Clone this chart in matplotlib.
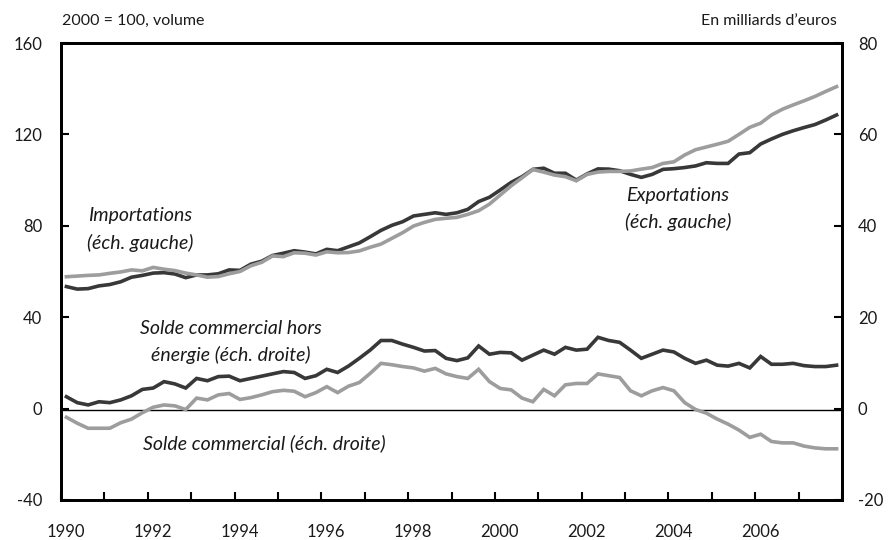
import numpy as np
import matplotlib
matplotlib.use("Agg")
import matplotlib.pyplot as plt
from matplotlib.transforms import ScaledTranslation

# Quarterly data, 1990Q1 - 2007Q4
start_year = 1990
n_quarters = 72

importations = [
    53.4, 52.3, 52.5, 53.7,
    54.3, 55.5, 57.5, 58.3,
    59.3, 59.5, 58.9, 57.3,
    58.5, 58.5, 59.0, 60.7,
    60.5, 63.2, 64.5, 67.0,
    68.0, 69.1, 68.5, 67.7,
    69.7, 69.1, 70.8, 72.5,
    75.2, 78.0, 80.2, 81.8,
    84.3, 85.0, 85.7, 85.0,
    85.7, 87.2, 90.6, 92.5,
    95.7, 99.0, 101.5, 104.7,
    105.2, 103.0, 103.0, 100.0,
    102.7, 104.9, 104.8, 104.1,
    102.5, 101.2, 102.5, 104.7,
    105.0, 105.5, 106.2, 107.6,
    107.3, 107.3, 111.4, 112.0,
    115.8, 118.0, 120.0, 121.6,
    123.0, 124.3, 126.3, 128.5,
]

exportations = [
    57.7, 58.0, 58.3, 58.5,
    59.2, 59.8, 60.7, 60.3,
    61.8, 61.0, 60.4, 59.3,
    58.5, 57.5, 57.8, 59.0,
    60.0, 62.5, 64.0, 66.8,
    66.5, 68.2, 68.0, 67.2,
    68.6, 68.2, 68.3, 69.0,
    70.6, 72.0, 74.5, 77.0,
    79.9, 81.5, 82.8, 83.3,
    83.7, 85.0, 86.6, 89.5,
    93.5, 97.5, 101.0, 104.6,
    103.5, 102.2, 101.5, 99.7,
    102.5, 103.5, 103.8, 103.8,
    104.0, 104.8, 105.5, 107.3,
    108.0, 111.0, 113.3, 114.5,
    115.7, 117.0, 120.0, 123.1,
    124.9, 128.5, 131.0, 132.9,
    134.7, 136.6, 138.8, 140.9,
]

solde_hors_energie = [
    2.6, 1.3, 0.8, 1.5,
    1.3, 1.9, 2.8, 4.2,
    4.5, 5.9, 5.4, 4.5,
    6.6, 6.1, 7.0, 7.1,
    6.1, 6.6, 7.1, 7.6,
    8.1, 7.9, 6.6, 7.2,
    8.6, 7.9, 9.3, 11.0,
    12.8, 14.9, 14.9, 14.1,
    13.4, 12.6, 12.7, 11.0,
    10.5, 11.1, 13.7, 11.9,
    12.3, 12.2, 10.6, 11.7,
    12.8, 11.9, 13.4, 12.8,
    13.0, 15.6, 14.9, 14.5,
    12.8, 11.0, 11.9, 12.8,
    12.4, 11.0, 9.9, 10.6,
    9.5, 9.3, 9.9, 8.9,
    11.4, 9.7, 9.7, 9.9,
    9.4, 9.2, 9.2, 9.5,
]

solde_commercial = [
    -1.9, -3.2, -4.3, -4.3,
    -4.3, -3.1, -2.3, -0.9,
    0.3, 0.8, 0.6, -0.2,
    2.3, 1.9, 3.0, 3.3,
    2.0, 2.4, 3.0, 3.7,
    4.0, 3.8, 2.6, 3.5,
    4.8, 3.5, 4.9, 5.7,
    7.7, 9.9, 9.6, 9.2,
    8.9, 8.2, 8.8, 7.6,
    7.0, 6.6, 8.6, 5.9,
    4.4, 4.1, 2.3, 1.5,
    4.2, 2.8, 5.2, 5.5,
    5.5, 7.6, 7.2, 6.8,
    3.9, 2.8, 3.9, 4.6,
    3.9, 1.3, -0.2, -1.0,
    -2.3, -3.4, -4.7, -6.3,
    -5.6, -7.2, -7.5, -7.5,
    -8.2, -8.6, -8.8, -8.8,
]

left_ticks = [-40, 0, 40, 80, 120, 160]
right_ticks = [-20, 0, 20, 40, 60, 80]
year_labels = list(range(1990, 2007, 2))

dates = start_year + 0.125 + 0.25 * np.arange(n_quarters)

FONT = "Lato"
DARK = "#383838"
LIGHT = "#9d9d9d"
TEXT = "#1a1a1a"

plt.rcParams["font.family"] = [FONT, "DejaVu Sans"]

fig = plt.figure(figsize=(8.89, 5.40), dpi=100)
ax = fig.add_axes([61 / 889, 1 - 500 / 540, (842 - 61) / 889, (500 - 43) / 540])
ax2 = ax.twinx()

lw = 2.6
ax.plot(dates, exportations, color=LIGHT, lw=lw, solid_joinstyle="miter", zorder=3)
ax.plot(dates, importations, color=DARK, lw=lw, solid_joinstyle="miter", zorder=2)
ax2.plot(dates, solde_commercial, color=LIGHT, lw=lw, solid_joinstyle="miter", zorder=3)
ax2.plot(dates, solde_hors_energie, color=DARK, lw=lw, solid_joinstyle="miter", zorder=3)
ax2.axhline(-0.4, color="black", lw=1.0, zorder=2)

ax.set_xlim(1990, 2008)
ax.set_ylim(-40, 160)
ax2.set_ylim(-20, 80)

ax.set_yticks(left_ticks)
ax.set_yticklabels([str(v) for v in left_ticks])
ax2.set_yticks(right_ticks)
ax2.set_yticklabels([str(v) for v in right_ticks])

years = list(range(1990, 2009))
ax.set_xticks(years)
ax.set_xticklabels([str(y) if y in year_labels else "" for y in years])

for a in (ax, ax2):
    for s in a.spines.values():
        s.set_linewidth(2.0)
        s.set_color("black")

ax.tick_params(axis="y", direction="in", length=6, width=1.5, pad=13.5, labelsize=12, labelcolor=TEXT)
ax2.tick_params(axis="y", direction="in", length=6, width=1.5, pad=11.5, labelsize=12, labelcolor=TEXT)
ax.tick_params(axis="x", direction="in", length=6, width=1.5, pad=17, labelsize=12, labelcolor=TEXT)

offset = ScaledTranslation(5 / 100, 0, fig.dpi_scale_trans)
for lab in ax.get_xticklabels():
    lab.set_transform(lab.get_transform() + offset)

# Header texts
fig.text(62 / 889, 1 - 21 / 540, "2000 = 100, volume", ha="left", va="center", fontsize=11.5, color=TEXT)
fig.text(837 / 889, 1 - 21 / 540, "En milliards d\u2019euros", ha="right", va="center", fontsize=11.5, color=TEXT)

# Annotations (pixel positions converted to figure fractions)
def ftext(x, y, s):
    fig.text(x / 889, 1 - y / 540, s, ha="center", va="center", fontsize=14,
             style="italic", fontweight="normal", color=TEXT)

ftext(140, 216, "Importations")
ftext(140, 243, "(\u00e9ch. gauche)")
ftext(678, 196, "Exportations")
ftext(678, 222, "(\u00e9ch. gauche)")
ftext(231, 328, "Solde commercial hors")
ftext(231, 355, "\u00e9nergie (\u00e9ch. droite)")
ftext(264, 443, "Solde commercial (\u00e9ch. droite)")

fig.savefig("out.png", dpi=100)
